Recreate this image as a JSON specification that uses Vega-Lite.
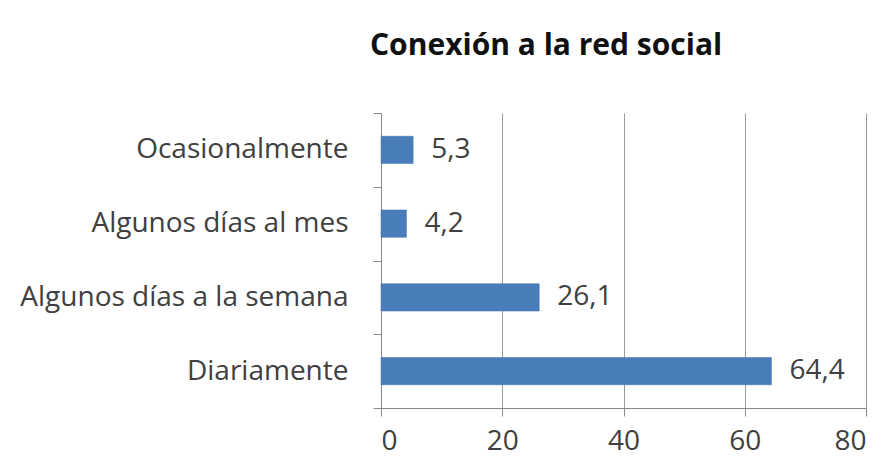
{
  "$schema": "https://vega.github.io/schema/vega-lite/v6.json",
  "autosize": "none",
  "width": 485,
  "height": 295,
  "padding": {"left": 381, "top": 113, "right": 21, "bottom": 58},
  "background": "white",
  "title": {
    "text": "Conexión a la red social",
    "anchor": "start",
    "frame": "group",
    "dx": -11,
    "offset": 38,
    "font": "Open Sans",
    "fontSize": 30,
    "fontWeight": "bold",
    "color": "#111111"
  },
  "config": {
    "locale": {"number": {"decimal": ",", "thousands": ".", "grouping": [3], "currency": ["", " €"]}},
    "view": {"stroke": null},
    "font": "Open Sans"
  },
  "data": {
    "values": [
      {"categoria": "Ocasionalmente", "valor": 5.3},
      {"categoria": "Algunos días al mes", "valor": 4.2},
      {"categoria": "Algunos días a la semana", "valor": 26.1},
      {"categoria": "Diariamente", "valor": 64.4}
    ]
  },
  "encoding": {
    "y": {
      "field": "categoria",
      "type": "nominal",
      "sort": null,
      "scale": {"paddingInner": 0, "paddingOuter": 0},
      "axis": {
        "title": null,
        "tickBand": "extent",
        "tickSize": 8,
        "tickColor": "#8a8a8a",
        "domainColor": "#8a8a8a",
        "labelFont": "Open Sans",
        "labelFontSize": 28,
        "labelColor": "#404040",
        "labelPadding": 25,
        "labelLimit": 0,
        "grid": false
      }
    },
    "x": {
      "field": "valor",
      "type": "quantitative",
      "scale": {"domain": [0, 80], "nice": false},
      "axis": {
        "title": null,
        "values": [0, 20, 40, 60, 80],
        "format": "d",
        "tickSize": 8,
        "tickColor": "#8a8a8a",
        "domainColor": "#8a8a8a",
        "gridColor": "#9a9a9a",
        "labelFont": "Open Sans",
        "labelFontSize": 28,
        "labelColor": "#404040",
        "labelPadding": 11
      }
    }
  },
  "layer": [
    {"mark": {"type": "bar", "color": "#4a7ebb", "stroke": "#3f6fa8", "strokeWidth": 0.5, "height": {"band": 0.37}}},
    {
      "mark": {"type": "text", "align": "left", "dx": 18, "font": "Open Sans", "fontSize": 28, "color": "#404040"},
      "encoding": {"text": {"field": "valor", "type": "quantitative", "format": ".1f"}}
    }
  ]
}
